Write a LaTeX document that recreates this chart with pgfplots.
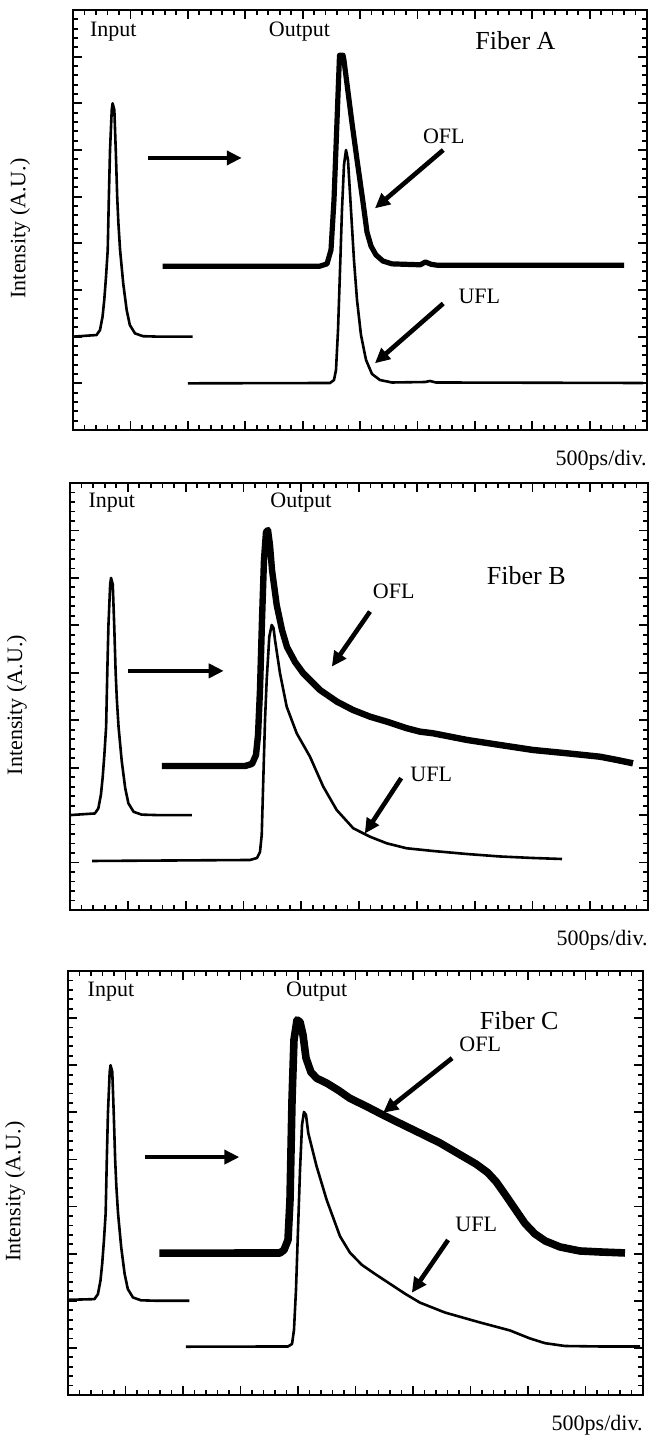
\documentclass[border=0pt]{standalone}
\usepackage{fontspec}
\setmainfont{Liberation Serif}
\usepackage{pgfplots}
\pgfplotsset{compat=1.18}
\usetikzlibrary{arrows.meta}

\newcommand{\lbl}{\fontsize{11}{13}\selectfont}
\newcommand{\fib}{\fontsize{13}{15}\selectfont}

\pgfplotsset{
  trace/.style={
    scale only axis, anchor=south west,
    xmin=0, xmax=10, ymin=0, ymax=9,
    xtick={0,...,10}, ytick={0,...,9}, minor tick num=4,
    xticklabels={}, yticklabels={},
    tick align=inside, major tick length=4.5pt, minor tick length=2.5pt,
    tick style={black, line width=0.9pt},
    axis line style={line width=1.2pt},
    clip=false,
    xlabel={500ps/div.}, ylabel={Intensity (A.U.)},
    every axis x label/.style={at={(rel axis cs:1,0)}, anchor=base east, inner sep=0pt, yshift=-18pt, font=\lbl},
    every axis y label/.style={at={(rel axis cs:-0.092,0.48)}, anchor=center, rotate=90, font=\lbl},
  },
  thin/.style={black, line width=1.3pt, line join=round, no marks},
  fat/.style={black, line width=#1, line join=round, no marks},
}
\tikzset{pointer/.style={-{Triangle[length=7.5pt,width=7pt]}, line width=2.3pt}}

\begin{document}
\begin{tikzpicture}
\path[use as bounding box] (0,0) rectangle (325pt,718pt);

% ---------------- Fiber A ----------------
\begin{axis}[trace, at={(36.5pt,503pt)}, width=287pt, height=210pt]
\addplot[thin] coordinates {(0,2.0)(0.41,2.035)(0.47,2.14)(0.515,2.43)(0.545,2.79)(0.575,3.28)(0.605,3.86)(0.625,5.0)(0.645,6.0)(0.675,6.86)(0.69,7.0)(0.72,6.86)(0.745,6.0)(0.77,5.0)(0.79,4.45)(0.82,3.86)(0.875,3.14)(0.935,2.57)(0.99,2.25)(1.08,2.07)(1.22,2.01)(1.5,2.0)(2.085,2.0)};
% OFL
\addplot[fat=2.6pt] coordinates {(1.56,3.51)(4.30,3.51)(4.425,3.56)(4.495,3.86)(4.547,4.93)(4.60,6.64)(4.643,8.03)(4.704,8.03)(4.72,7.93)(4.854,6.64)(4.948,5.79)(5.047,4.93)(5.122,4.24)(5.192,3.94)(5.279,3.75)(5.40,3.62)(5.557,3.56)(6.05,3.54)(6.14,3.6)(6.24,3.55)(6.35,3.53)(9.6,3.53)};
% UFL
\addplot[thin] coordinates {(2.0,1.0)(4.477,1.007)(4.547,1.071)(4.582,1.286)(4.617,2.143)(4.652,3.428)(4.686,4.714)(4.721,5.678)(4.756,6.0)(4.791,5.785)(4.843,4.714)(4.895,3.643)(4.948,2.786)(5.017,2.036)(5.105,1.5)(5.209,1.2)(5.348,1.071)(5.557,1.018)(6.132,1.028)(6.22,1.05)(6.324,1.018)(9.93,1.007)};
\draw[pointer] (axis cs:1.31,5.83) -- (axis cs:2.94,5.83);
\draw[pointer] (axis cs:6.45,6.0) -- (axis cs:5.26,4.75);
\draw[pointer] (axis cs:6.45,2.71) -- (axis cs:5.26,1.43);
\node[anchor=base west, font=\lbl] at (axis cs:0.174,8.44) {Input};
\node[anchor=base west, font=\lbl] at (axis cs:3.29,8.44) {Output};
\node[anchor=base west, font=\fib] at (axis cs:6.887,8.157) {Fiber A};
\node[font=\lbl] at (axis cs:6.46,6.3) {OFL};
\node[font=\lbl] at (axis cs:7.08,2.87) {UFL};
\end{axis}

% ---------------- Fiber B ----------------
\begin{axis}[trace, at={(35pt,263pt)}, width=289pt, height=213.5pt]
\addplot[thin] coordinates {(0,2.0)(0.43,2.035)(0.49,2.14)(0.535,2.43)(0.565,2.79)(0.595,3.28)(0.625,3.86)(0.645,5.0)(0.665,6.0)(0.695,6.86)(0.71,7.0)(0.74,6.86)(0.765,6.0)(0.79,5.0)(0.81,4.45)(0.84,3.86)(0.895,3.14)(0.955,2.57)(1.01,2.25)(1.10,2.07)(1.24,2.01)(1.52,2.0)(2.11,2.0)};
% OFL
\addplot[fat=3.2pt] coordinates {(1.59,3.035)(3.03,3.035)(3.15,3.08)(3.218,3.267)(3.253,3.689)(3.287,4.637)(3.322,6.113)(3.356,7.378)(3.391,7.968)(3.426,8.01)(3.46,7.694)(3.495,7.167)(3.576,6.429)(3.668,5.902)(3.754,5.544)(3.893,5.228)(4.031,4.996)(4.325,4.637)(4.619,4.391)(4.896,4.216)(5.19,4.075)(5.484,3.969)(5.83,3.83)(6.055,3.759)(6.28,3.725)(6.869,3.584)(7.439,3.478)(8.01,3.373)(8.599,3.303)(9.17,3.231)(9.464,3.162)(9.74,3.092)};
% UFL
\addplot[thin] coordinates {(0.381,1.033)(3.114,1.054)(3.235,1.096)(3.287,1.223)(3.317,1.581)(3.344,2.74)(3.374,4.005)(3.403,4.848)(3.448,5.761)(3.49,6.008)(3.521,5.944)(3.547,5.691)(3.633,4.99)(3.749,4.285)(3.922,3.725)(4.152,3.231)(4.382,2.599)(4.614,2.108)(4.901,1.722)(5.19,1.545)(5.479,1.406)(5.825,1.301)(6.28,1.244)(6.869,1.18)(7.439,1.128)(8.01,1.096)(8.512,1.075)};
\draw[pointer] (axis cs:1.0,5.04) -- (axis cs:2.66,5.04);
\draw[pointer] (axis cs:5.19,6.29) -- (axis cs:4.53,5.13);
\draw[pointer] (axis cs:5.73,2.78) -- (axis cs:5.10,1.61);
\node[anchor=base west, font=\lbl] at (axis cs:0.2,8.49) {Input};
\node[anchor=base west, font=\lbl] at (axis cs:3.345,8.49) {Output};
\node[anchor=base west, font=\fib] at (axis cs:7.09,6.87) {Fiber B};
\node[font=\lbl] at (axis cs:5.6,6.72) {OFL};
\node[font=\lbl] at (axis cs:6.25,2.85) {UFL};
\end{axis}

% ---------------- Fiber C ----------------
\begin{axis}[trace, at={(34pt,20.5pt)}, width=287.5pt, height=212pt]
\addplot[thin] coordinates {(0,2.02)(0.46,2.035)(0.52,2.14)(0.565,2.43)(0.595,2.79)(0.625,3.28)(0.655,3.86)(0.675,5.0)(0.695,6.0)(0.725,6.86)(0.74,7.0)(0.77,6.86)(0.795,6.0)(0.82,5.0)(0.84,4.45)(0.87,3.86)(0.925,3.14)(0.985,2.57)(1.04,2.25)(1.13,2.07)(1.27,2.01)(1.55,2.0)(2.11,2.0)};
% OFL
\addplot[fat=3.8pt] coordinates {(1.588,3.01)(3.687,3.015)(3.757,3.079)(3.826,3.291)(3.861,4.14)(3.896,6.263)(3.93,7.537)(3.983,7.962)(4.035,7.919)(4.087,7.643)(4.139,7.155)(4.226,6.85)(4.33,6.72)(4.5,6.62)(4.7,6.47)(4.9,6.3)(5.2,6.12)(5.5,5.93)(5.8,5.75)(6.12,5.56)(6.47,5.35)(6.82,5.1)(7.10,4.9)(7.30,4.72)(7.45,4.52)(7.6,4.26)(7.774,3.95)(7.948,3.64)(8.12,3.42)(8.3,3.27)(8.557,3.142)(8.904,3.057)(9.252,3.036)(9.687,3.015)};
% UFL
\addplot[thin] coordinates {(2.052,1.025)(3.826,1.03)(3.896,1.083)(3.93,1.38)(3.965,2.229)(4.0,3.503)(4.035,4.777)(4.07,5.732)(4.104,6.008)(4.139,5.945)(4.179,5.556)(4.325,4.847)(4.499,4.14)(4.73,3.37)(4.904,3.02)(5.113,2.76)(5.339,2.57)(5.6,2.36)(5.861,2.15)(6.122,1.96)(6.557,1.75)(7.165,1.54)(7.687,1.37)(8.035,1.20)(8.296,1.10)(8.643,1.04)(9.252,1.03)(9.95,1.03)};
\draw[pointer] (axis cs:1.34,5.05) -- (axis cs:2.98,5.05);
\draw[pointer] (axis cs:6.68,7.15) -- (axis cs:5.48,5.99);
\draw[pointer] (axis cs:6.61,3.29) -- (axis cs:5.98,2.17);
\node[anchor=base west, font=\lbl] at (axis cs:0.22,8.46) {Input};
\node[anchor=base west, font=\lbl] at (axis cs:3.67,8.46) {Output};
\node[anchor=base west, font=\fib] at (axis cs:7.04,7.75) {Fiber C};
\node[font=\lbl] at (axis cs:7.17,7.45) {OFL};
\node[font=\lbl] at (axis cs:7.10,3.63) {UFL};
\end{axis}
\end{tikzpicture}
\end{document}
